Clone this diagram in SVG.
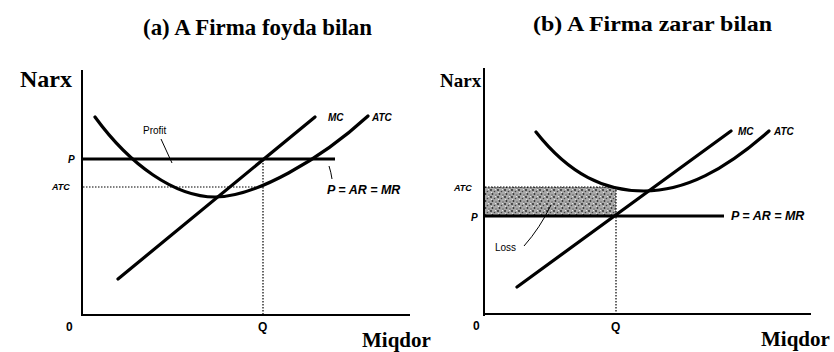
<svg xmlns="http://www.w3.org/2000/svg" width="834" height="352" viewBox="0 0 834 352">
<style>
.title{font-family:"Liberation Serif",serif;font-weight:bold;fill:#000}
.axlab{font-family:"Liberation Serif",serif;font-weight:bold;fill:#000}
.lab{font-family:"Liberation Sans",Arial,sans-serif;font-style:italic;font-weight:bold;fill:#000}
.tick{font-family:"Liberation Sans",Arial,sans-serif;font-weight:bold;fill:#000}
.small{font-family:"Liberation Sans",Arial,sans-serif;fill:#000}
.axis{stroke:#000;stroke-width:2;fill:none}
.curve{stroke:#000;stroke-width:3.2;fill:none;stroke-linecap:round}
.price{stroke:#000;stroke-width:3;fill:none}
.dot{stroke:#000;stroke-width:1.2;stroke-dasharray:1.5 1.5;fill:none}
.lead{stroke:#000;stroke-width:1;fill:none}
</style>
<defs>
<pattern id="stip" width="7" height="7" patternUnits="userSpaceOnUse">
<rect width="7" height="7" fill="#a8a8a8"/>
<circle cx="1" cy="1" r="0.9" fill="#222"/>
<circle cx="4.5" cy="2.5" r="0.8" fill="#444"/>
<circle cx="2.5" cy="5" r="0.9" fill="#333"/>
<circle cx="6" cy="6" r="0.7" fill="#555"/>
<circle cx="5.5" cy="0.5" r="0.5" fill="#fff"/>
<circle cx="1.5" cy="3.5" r="0.6" fill="#eee"/>
</pattern>
</defs>
<rect width="834" height="352" fill="#fff"/>

<g id="panel-a">
<text class="title" x="143" y="35" font-size="23" textLength="229" lengthAdjust="spacingAndGlyphs">(a) A Firma foyda bilan</text>
<text class="axlab" x="20" y="87" font-size="24">Narx</text>
<text class="axlab" x="362" y="347" font-size="21">Miqdor</text>
<g id="axes-a">
<line class="axis" x1="82" y1="70" x2="82" y2="316"/>
<line class="axis" x1="81" y1="315" x2="410" y2="315"/>
</g>
<g id="guides-a">
<line class="dot" x1="83" y1="187" x2="263" y2="187"/>
<line class="dot" x1="263" y1="160" x2="263" y2="314"/>
</g>
<g id="price-a"><line class="price" x1="82" y1="159" x2="335" y2="159"/></g>
<g id="mc-a"><path class="curve" d="M118,279 L315,117"/></g>
<g id="atc-a"><path class="curve" d="M95,117 C130,165 175,197 215,197 C255,197 320,160 368,116"/></g>
<text class="lab" x="328" y="121" font-size="10">MC</text>
<text class="lab" x="372" y="121" font-size="10">ATC</text>
<text class="small" x="143" y="134" font-size="10">Profit</text>
<text class="lab" x="68" y="163" font-size="10">P</text>
<text class="lab" x="52" y="190" font-size="9">ATC</text>
<text class="lab" x="327" y="194" font-size="12.5">P = AR = MR</text>
<text class="tick" x="66" y="331" font-size="12">0</text>
<text class="tick" x="258" y="331" font-size="12">Q</text>
</g>

<g id="panel-b">
<text class="title" x="533" y="31" font-size="21" textLength="239" lengthAdjust="spacingAndGlyphs">(b) A Firma zarar bilan</text>
<text class="axlab" x="440" y="87" font-size="19">Narx</text>
<text class="axlab" x="761" y="346" font-size="21">Miqdor</text>
<g id="loss-area"><rect x="485" y="187" width="131" height="29" fill="url(#stip)"/></g>
<g id="axes-b">
<line class="axis" x1="484" y1="68" x2="484" y2="316"/>
<line class="axis" x1="483" y1="314" x2="811" y2="314"/>
</g>
<g id="guides-b">
<line class="dot" x1="485" y1="187" x2="616" y2="187"/>
<line class="dot" x1="616" y1="187" x2="616" y2="313"/>
</g>
<g id="price-b"><line class="price" x1="484" y1="216" x2="724" y2="216"/></g>
<g id="mc-b"><path class="curve" d="M517,287 L731,131"/></g>
<g id="atc-b"><path class="curve" d="M536,132 C570,175 605,191 644,191 C685,191 725,170 769,131"/></g>
<text class="lab" x="738" y="135" font-size="10">MC</text>
<text class="lab" x="774" y="135" font-size="10">ATC</text>
<text class="lab" x="731" y="220" font-size="12.5">P = AR = MR</text>
<text class="small" x="495" y="251" font-size="10">Loss</text>
<text class="lab" x="454" y="191" font-size="9">ATC</text>
<text class="lab" x="471" y="221" font-size="10">P</text>
<text class="tick" x="473" y="330" font-size="12">0</text>
<text class="tick" x="611" y="331" font-size="12">Q</text>
</g>

<g id="connectors">
<path class="lead" d="M161,139 L172,163"/>
<path class="lead" d="M329,166 Q331,172 332,179"/>
<path class="lead" d="M524,246 Q540,228 551,205"/>
</g>
</svg>
